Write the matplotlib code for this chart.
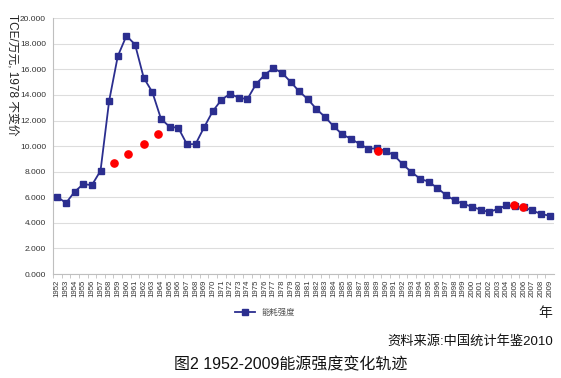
# Imports
import matplotlib
matplotlib.use('Agg')
import matplotlib.pyplot as plt
from matplotlib.ticker import FuncFormatter, MultipleLocator

plt.rcParams['font.family'] = ['Liberation Sans', 'Noto Sans CJK SC', 'DejaVu Sans']

# Dados
anos = list(range(1952, 2010))
intensidade = [6.04, 5.55, 6.43, 7.03, 6.95, 8.07, 13.54, 17.03, 18.62, 17.94,
               15.34, 14.22, 12.13, 11.51, 11.43, 10.15, 10.15, 11.48, 12.73, 13.62,
               14.09, 13.78, 13.67, 14.84, 15.57, 16.09, 15.73, 15.03, 14.27, 13.67,
               12.89, 12.27, 11.54, 10.91, 10.57, 10.16, 9.80, 9.82, 9.64, 9.27,
               8.57, 7.97, 7.45, 7.21, 6.72, 6.17, 5.76, 5.49, 5.26, 5.03,
               4.84, 5.10, 5.36, 5.31, 5.21, 4.97, 4.69, 4.56]

# Pontos vermelhos (posição aproximada no eixo)
anos_vermelhos = [1958.6, 1960.2, 1962.0, 1963.7, 1989.1, 2004.85, 2005.9]
valores_vermelhos = [8.70, 9.40, 10.18, 10.91, 9.61, 5.36, 5.23]

rotulo_serie = '能耗强度'

# Criando o gráfico
fig = plt.figure(figsize=(5.61, 3.78), dpi=100)
ax = fig.add_axes([0.0945, 0.275, 0.893, 0.677])

azul = '#2B2E8F'
ax.plot(anos, intensidade, color=azul, linewidth=1.3, marker='s',
        markersize=4.6, markerfacecolor=azul, markeredgecolor=azul,
        label=rotulo_serie, zorder=3)
ax.plot(anos_vermelhos, valores_vermelhos, linestyle='none', marker='o',
        markersize=5.2, color='#FF0000', zorder=4)

# Configurando os eixos
ax.set_xlim(1951.5, 2009.5)
ax.set_ylim(0, 20)
ax.yaxis.set_major_locator(MultipleLocator(2))
ax.yaxis.set_major_formatter(FuncFormatter(lambda v, p: f'{v:.3f}'))
ax.set_xticks(anos)
ax.set_xticklabels([str(a) for a in anos], rotation=90, fontsize=5.6, color='#333333')
ax.set_xticks([a + 0.5 for a in anos[:-1]] + [1951.5], minor=True)
ax.tick_params(axis='x', which='major', length=0, pad=4)
ax.tick_params(axis='x', which='minor', length=3, color='#BFBFBF', direction='out')
ax.tick_params(axis='y', labelsize=6, colors='#333333', length=0, pad=5)

ax.grid(axis='y', color='#DDDDDD', linewidth=0.8)
ax.set_axisbelow(True)
for lado in ['top', 'right']:
    ax.spines[lado].set_visible(False)
ax.spines['left'].set_color('#BFBFBF')
ax.spines['bottom'].set_color('#BFBFBF')

# Legenda
ax.legend(loc='center', bbox_to_anchor=(0.423, -0.152), frameon=False,
          fontsize=6, handlelength=2.4, labelcolor='#555555')

# Textos
fig.text(0.012, 0.962, 'TCE/万元, 1978 不变价', rotation=-90, va='top', ha='left',
         fontsize=8.5, color='#222222')
fig.text(0.985, 0.172, '年', ha='right', va='center', fontsize=10, color='#222222')
fig.text(0.986, 0.098, '资料来源:中国统计年鉴2010', ha='right', va='center',
         fontsize=9.5, color='#111111', fontweight='medium')
fig.text(0.519, 0.035, '图2 1952-2009能源强度变化轨迹', ha='center', va='center',
         fontsize=11.5, color='#111111')

fig.savefig('out.png', dpi=100)
